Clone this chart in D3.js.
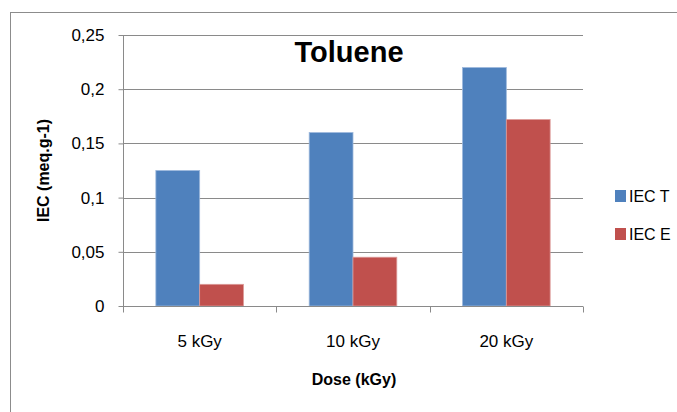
<!DOCTYPE html>
<html>
<head>
<meta charset="utf-8">
<script src="https://cdn.jsdelivr.net/npm/d3@7"></script>
<style>
  html, body { margin: 0; padding: 0; background: #fff; }
  svg { display: block; font-family: "Liberation Sans", Arial, sans-serif; }
</style>
</head>
<body>
<svg id="chart" width="677" height="412"></svg>
<script>
// Ion exchange capacity by irradiation dose (toluene grafting)
const categories = ["5 kGy", "10 kGy", "20 kGy"];
const seriesNames = ["IEC T", "IEC E"];
const iecT = [0.125, 0.16, 0.22];
const iecE = [0.02, 0.045, 0.172];
const yTicks = [0, 0.05, 0.1, 0.15, 0.2, 0.25];
const yTickLabels = ["0", "0,05", "0,1", "0,15", "0,2", "0,25"];
const colors = ["#4F81BD", "#C0504D"];
const edgeColors = ["#9db8dc", "#dc9a98"];

const svg = d3.select("#chart");
const margin = { left: 123, right: 94, top: 35, bottom: 106 };
const W = 677, H = 412;
const plotW = W - margin.left - margin.right;
const plotH = H - margin.top - margin.bottom;

// outer chart frame
svg.append("rect")
  .attr("x", 10.5).attr("y", 12.5)
  .attr("width", 700).attr("height", 500)
  .attr("fill", "none").attr("stroke", "#8c8c8c").attr("stroke-width", 1);

const g = svg.append("g").attr("transform", `translate(${margin.left},${margin.top})`);

const x0 = d3.scaleBand().domain(categories).range([0, plotW]).paddingInner(0).paddingOuter(0);
// gap width of 150% between groups
const groupW = x0.bandwidth() * 2 / 3.5;
const x1 = d3.scaleBand().domain(seriesNames).range([0, groupW]).padding(0);
const y = d3.scaleLinear().domain([0, 0.25]).range([plotH, 0]);

// horizontal gridlines
g.append("g").selectAll("line").data(yTicks.filter(d => d > 0)).join("line")
  .attr("x1", 0).attr("x2", plotW)
  .attr("y1", d => Math.round(y(d)) + 0.5).attr("y2", d => Math.round(y(d)) + 0.5)
  .attr("stroke", "#8a8a8a").attr("stroke-width", 1);

// y axis
const yAxis = d3.axisLeft(y).tickValues(yTicks)
  .tickFormat((d, i) => yTickLabels[i]).tickSize(5).tickPadding(14);
const yg = g.append("g").attr("transform", "translate(0.5,0)").call(yAxis);
yg.select(".domain").attr("stroke", "#8a8a8a").attr("d", `M0,0V${plotH}`);
yg.selectAll(".tick line").attr("stroke", "#8a8a8a");
yg.selectAll(".tick text").attr("font-size", 17).attr("fill", "#000")
  .attr("font-family", "Liberation Sans, Arial, sans-serif");

// bars
const groups = g.append("g").selectAll("g").data(categories).join("g")
  .attr("transform", d => `translate(${x0(d) + (x0.bandwidth() - groupW) / 2},0)`);
groups.selectAll("rect")
  .data((d, i) => [
    { s: seriesNames[0], v: iecT[i], k: 0 },
    { s: seriesNames[1], v: iecE[i], k: 1 }
  ])
  .join("rect")
  .attr("x", d => x1(d.s))
  .attr("y", d => y(d.v))
  .attr("width", x1.bandwidth())
  .attr("height", d => plotH - y(d.v))
  .attr("fill", d => colors[d.k])
  .attr("stroke", d => edgeColors[d.k])
  .attr("stroke-width", 0.8);

// x axis
const xAxis = d3.axisBottom(x0).tickSize(0).tickPadding(28);
const xg = g.append("g").attr("transform", `translate(0,${plotH + 0.5})`).call(xAxis);
xg.select(".domain").attr("stroke", "#8a8a8a").attr("d", `M0,0H${plotW}`);
xg.selectAll(".tick text").attr("font-size", 17).attr("fill", "#000")
  .attr("font-family", "Liberation Sans, Arial, sans-serif");
// category boundary ticks
xg.append("g").selectAll("line").data(d3.range(categories.length + 1)).join("line")
  .attr("x1", i => Math.round(i * x0.bandwidth()) + 0.5)
  .attr("x2", i => Math.round(i * x0.bandwidth()) + 0.5)
  .attr("y1", 0).attr("y2", 6)
  .attr("stroke", "#8a8a8a");

// chart title
svg.append("text")
  .attr("x", 349).attr("y", 62)
  .attr("text-anchor", "middle")
  .attr("font-size", 29).attr("font-weight", "bold")
  .text("Toluene");

// axis titles
svg.append("text")
  .attr("x", 354).attr("y", 385)
  .attr("text-anchor", "middle")
  .attr("font-size", 16).attr("font-weight", "bold")
  .text("Dose (kGy)");

svg.append("text")
  .attr("transform", `translate(49,${margin.top + plotH / 2}) rotate(-90)`)
  .attr("text-anchor", "middle")
  .attr("font-size", 16).attr("font-weight", "bold")
  .text("IEC (meq.g-1)");

// legend
const legend = svg.append("g").attr("transform", "translate(615,190)");
const items = legend.selectAll("g").data(seriesNames).join("g")
  .attr("transform", (d, i) => `translate(0,${i * 38})`);
items.append("rect")
  .attr("width", 11).attr("height", 12)
  .attr("fill", (d, i) => colors[i]);
items.append("text")
  .attr("x", 14).attr("y", 12)
  .attr("font-size", 16)
  .text(d => d);
</script>
</body>
</html>
